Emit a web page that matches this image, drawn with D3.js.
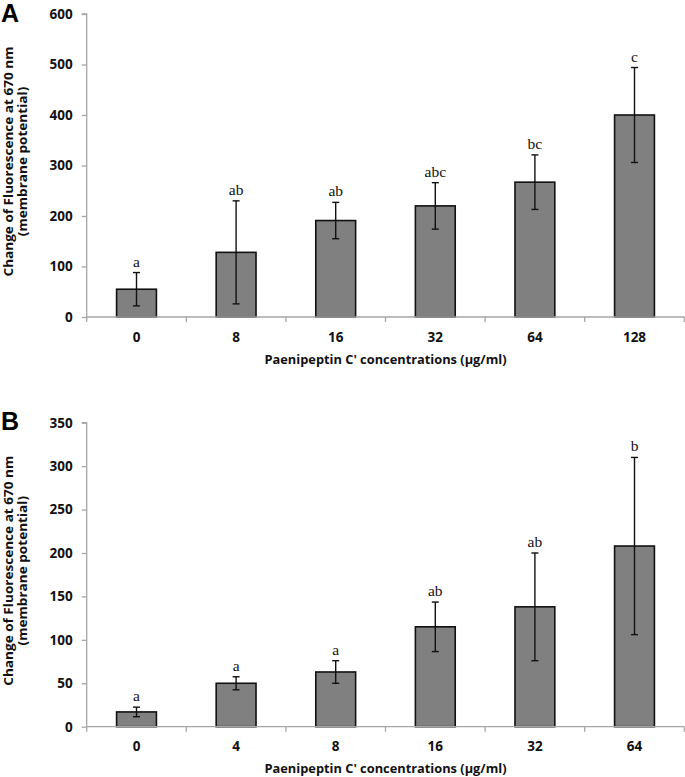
<!DOCTYPE html>
<html>
<head>
<meta charset="utf-8">
<script src="https://cdn.jsdelivr.net/npm/d3@7"></script>
<style>
  html, body { margin: 0; padding: 0; background: #fff; }
  svg { display: block; }
</style>
</head>
<body>
<svg id="chart" width="685" height="777"></svg>
<script>
// ---- Data ----
const categoriesA = ["0", "8", "16", "32", "64", "128"];
const meansA = [55, 128, 191, 220, 267, 400];
const errorsA = [33, 102, 36, 46, 54, 94];
const lettersA = ["a", "ab", "ab", "abc", "bc", "c"];
const yTicksA = [0, 100, 200, 300, 400, 500, 600];

const categoriesB = ["0", "4", "8", "16", "32", "64"];
const meansB = [17, 50, 63, 115, 138, 208];
const errorsB = [5.5, 7.5, 13, 28.5, 62, 102];
const lettersB = ["a", "a", "a", "ab", "ab", "b"];
const yTicksB = [0, 50, 100, 150, 200, 250, 300, 350];

const xTitle = "Paenipeptin C' concentrations (µg/ml)";
const yTitle1 = "Change of Fluorescence at 670 nm";
const yTitle2 = "(membrane potential)";

const svg = d3.select("#chart");
const sansBold = "'Open Sans', 'Noto Sans', sans-serif";

function panel(opts) {
  const { cats, means, errs, letters, ticks, yMax, top, bottom, tag, tagY } = opts;
  const left = 86.7, right = 684.3;
  const g = svg.append("g");

  const x = d3.scaleBand().domain(cats).range([left, right])
    .paddingInner(0.6).paddingOuter(0.3);
  const y = d3.scaleLinear().domain([0, yMax]).range([bottom, top]);

  // bars
  g.selectAll("rect.bar").data(cats).join("rect")
    .attr("class", "bar")
    .attr("x", d => x(d))
    .attr("width", x.bandwidth())
    .attr("y", (d, i) => y(means[i]))
    .attr("height", (d, i) => y(0) - y(means[i]))
    .attr("fill", "#808080")
    .attr("stroke", "#111")
    .attr("stroke-width", 1.6);

  // error bars
  const cx = d => x(d) + x.bandwidth() / 2;
  const eb = g.selectAll("g.err").data(cats).join("g").attr("class", "err")
    .attr("stroke", "#111").attr("stroke-width", 1.4);
  eb.append("line")
    .attr("x1", cx).attr("x2", cx)
    .attr("y1", (d, i) => y(means[i] + errs[i]))
    .attr("y2", (d, i) => y(means[i] - errs[i]));
  eb.append("line")
    .attr("x1", d => cx(d) - 3.5).attr("x2", d => cx(d) + 3.5)
    .attr("y1", (d, i) => y(means[i] + errs[i]))
    .attr("y2", (d, i) => y(means[i] + errs[i]));
  eb.append("line")
    .attr("x1", d => cx(d) - 3.5).attr("x2", d => cx(d) + 3.5)
    .attr("y1", (d, i) => y(means[i] - errs[i]))
    .attr("y2", (d, i) => y(means[i] - errs[i]));

  // significance letters
  g.selectAll("text.sig").data(cats).join("text")
    .attr("class", "sig")
    .attr("x", cx)
    .attr("y", (d, i) => y(means[i] + errs[i]) - 6)
    .attr("text-anchor", "middle")
    .attr("font-family", "'Liberation Serif', 'Times New Roman', serif")
    .attr("font-size", 15.5)
    .attr("fill", "#111")
    .text((d, i) => letters[i]);

  // y axis
  const yAxis = g.append("g").attr("transform", `translate(${left},0)`)
    .call(d3.axisLeft(y).tickValues(ticks).tickSize(5).tickPadding(9));
  yAxis.selectAll("path, line").attr("stroke", "#a6a6a6").attr("stroke-width", 1.3);
  yAxis.select(".domain").attr("d", `M-5,${top}H0V${bottom}`);
  yAxis.selectAll("text").attr("font-family", sansBold).attr("font-weight", "bold")
    .attr("font-size", 13.5).attr("fill", "#111");

  // x axis
  const xAxis = g.append("g").attr("transform", `translate(0,${bottom})`)
    .call(d3.axisBottom(x).tickSize(0).tickPadding(15));
  xAxis.select(".domain").attr("stroke", "#a6a6a6").attr("stroke-width", 1.3)
    .attr("d", `M${left},0H${right}`);
  xAxis.selectAll("text").attr("font-family", sansBold).attr("font-weight", "bold")
    .attr("font-size", 13.5).attr("fill", "#111");
  const bounds = cats.map(d => x(d) - x.step() * 0.3).concat([right]);
  xAxis.selectAll("line.bnd").data(bounds).join("line").attr("class", "bnd")
    .attr("x1", d => d).attr("x2", d => d).attr("y1", 0).attr("y2", 5)
    .attr("stroke", "#a6a6a6").attr("stroke-width", 1.3);

  // x title
  g.append("text")
    .attr("x", (left + right) / 2).attr("y", bottom + 46.5)
    .attr("text-anchor", "middle")
    .attr("font-family", sansBold).attr("font-weight", "bold").attr("font-size", 13)
    .attr("fill", "#111")
    .attr("textLength", 242).attr("lengthAdjust", "spacingAndGlyphs")
    .text(xTitle);

  // y title (two lines, same compression)
  const mid = (top + bottom) / 2 - 4;
  const t1 = g.append("text")
    .attr("transform", `translate(13,${mid}) rotate(-90)`)
    .attr("text-anchor", "middle")
    .attr("font-family", sansBold).attr("font-weight", "bold").attr("font-size", 13)
    .attr("fill", "#111")
    .text(yTitle1);
  const t2 = g.append("text")
    .attr("transform", `translate(27,${mid}) rotate(-90)`)
    .attr("text-anchor", "middle")
    .attr("font-family", sansBold).attr("font-weight", "bold").attr("font-size", 13)
    .attr("fill", "#111")
    .text(yTitle2);
  const n1 = t1.node().getComputedTextLength();
  const n2 = t2.node().getComputedTextLength();
  const k = 230 / n1;
  t1.attr("textLength", 230).attr("lengthAdjust", "spacingAndGlyphs");
  t2.attr("textLength", n2 * k).attr("lengthAdjust", "spacingAndGlyphs");

  // panel tag
  g.append("text")
    .attr("x", 1).attr("y", tagY)
    .attr("font-family", "'Liberation Sans', Arial, sans-serif")
    .attr("font-weight", "bold").attr("font-size", 25)
    .attr("fill", "#000")
    .text(tag);
}

panel({ cats: categoriesA, means: meansA, errs: errorsA, letters: lettersA,
  ticks: yTicksA, yMax: 600, top: 14, bottom: 317, tag: "A", tagY: 22 });
panel({ cats: categoriesB, means: meansB, errs: errorsB, letters: lettersB,
  ticks: yTicksB, yMax: 350, top: 422.7, bottom: 726.7, tag: "B", tagY: 430 });
</script>
</body>
</html>
